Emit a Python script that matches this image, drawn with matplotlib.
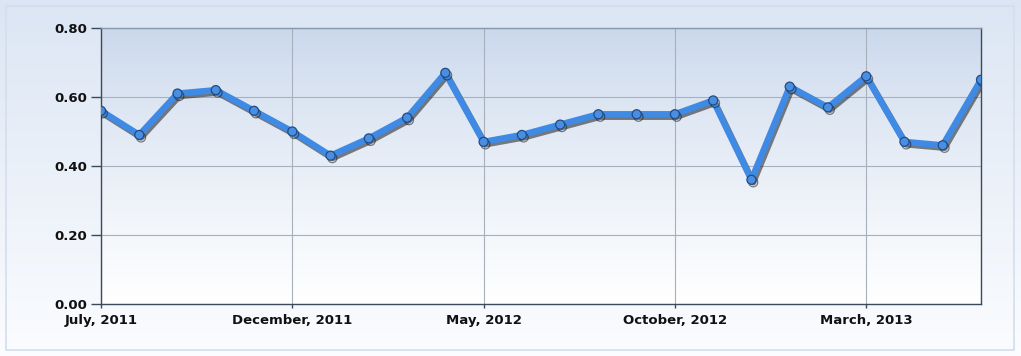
import numpy as np
import matplotlib
matplotlib.use("Agg")
import matplotlib.pyplot as plt
import matplotlib.patheffects as pe
from matplotlib.patches import Rectangle

months = ["Jul 2011", "Aug 2011", "Sep 2011", "Oct 2011", "Nov 2011", "Dec 2011",
          "Jan 2012", "Feb 2012", "Mar 2012", "Apr 2012", "May 2012", "Jun 2012",
          "Jul 2012", "Aug 2012", "Sep 2012", "Oct 2012", "Nov 2012", "Dec 2012",
          "Jan 2013", "Feb 2013", "Mar 2013", "Apr 2013", "May 2013", "Jun 2013"]
values = [0.56, 0.49, 0.61, 0.62, 0.56, 0.50, 0.43, 0.48, 0.54, 0.67, 0.47, 0.49,
          0.52, 0.55, 0.55, 0.55, 0.59, 0.36, 0.63, 0.57, 0.66, 0.47, 0.46, 0.65]
tick_idx = [0, 5, 10, 15, 20]
tick_labels = ["July, 2011", "December, 2011", "May, 2012", "October, 2012", "March, 2013"]
yticks = [0.0, 0.2, 0.4, 0.6, 0.8]

W, H = 1021, 356
fig = plt.figure(figsize=(W / 100, H / 100), dpi=100)


def gradient(top, bot, n=256, power=1.0):
    t = np.linspace(0, 1, n) ** power
    top = np.array(top)
    bot = np.array(bot)
    return (top[None, :] * (1 - t[:, None]) + bot[None, :] * t[:, None])[:, None, :]


# background gradient over the whole figure
bg = fig.add_axes([0, 0, 1, 1], zorder=-10)
bg.imshow(gradient([0.86, 0.90, 0.955], [0.985, 0.99, 1.0]), aspect="auto",
          extent=[0, 1, 0, 1], origin="upper")
bg.add_patch(Rectangle((6 / W, 6 / H), (1014 - 6) / W, (350 - 6) / H,
                       fill=False, edgecolor="#d3deee", linewidth=1.2,
                       transform=bg.transAxes))
bg.set_xlim(0, 1)
bg.set_ylim(0, 1)
bg.axis("off")

ax = fig.add_axes([101 / W, (H - 304) / H, (981 - 101) / W, (304 - 28) / H])
ax.imshow(gradient([0.79, 0.845, 0.925], [1.0, 1.0, 1.0], power=0.8), aspect="auto",
          extent=[0, len(values) - 1, 0, 0.8], origin="upper", zorder=0)
x = np.arange(len(values))
ax.plot(x, values, color="#3f8ae4", linewidth=4.6, solid_joinstyle="round",
        marker="o", markersize=6.5, markerfacecolor="#4a8ee2",
        markeredgecolor="#1f4c86", markeredgewidth=0.9, zorder=5,
        path_effects=[pe.SimpleLineShadow(offset=(1.3, -1.8), shadow_color="#1a1a1a", alpha=0.55),
                      pe.Normal()])
ax.set_xlim(0, len(values) - 1)
ax.set_ylim(0, 0.8)
ax.set_xticks(tick_idx)
ax.set_xticklabels(tick_labels)
ax.set_yticks(yticks)
ax.set_yticklabels([f"{v:.2f}" for v in yticks])
ax.grid(True, color="#a8b0bc", linewidth=0.8, zorder=1)
ax.set_axisbelow(True)
for s in ax.spines.values():
    s.set_color("#3a4a5a")
    s.set_linewidth(1.0)
ax.spines["top"].set_color("#8898aa")
ax.tick_params(axis="x", colors="#3a4a5a", length=3, width=1, labelcolor="#111111",
               labelsize=9.5, pad=4)
ax.tick_params(axis="y", colors="#3a4a5a", length=7, width=1, labelcolor="#111111",
               labelsize=9.5, pad=3)
for lab in ax.get_xticklabels() + ax.get_yticklabels():
    lab.set_fontweight("bold")

fig.savefig("out.png", dpi=100)
